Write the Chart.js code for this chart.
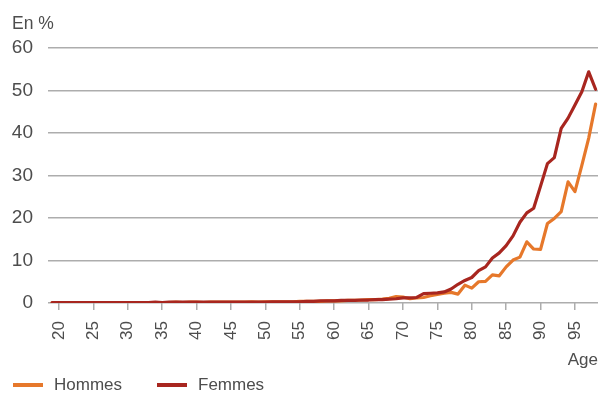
<!DOCTYPE html>
<html lang="fr">
<head>
<meta charset="utf-8">
<script src="https://cdn.jsdelivr.net/npm/chart.js@4"></script>
<style>
  html, body { margin: 0; padding: 0; background: #fff; }
  #wrap { width: 598px; height: 394px; }
</style>
</head>
<body>
<div id="wrap"><canvas id="ageChart"></canvas></div>
<script>
// Âges de 19 à 98 ans
const ages = [];
for (let a = 19; a <= 98; a++) ages.push(a);

const hommes = [
  0.1, 0.1, 0.1, 0.1, 0.1, 0.1, 0.1, 0.1, 0.1, 0.1, 0.1,
  0.1, 0.1, 0.1, 0.1, 0.1, 0.1, 0.1, 0.2, 0.1, 0.2,
  0.2, 0.1, 0.2, 0.2, 0.2, 0.2, 0.2, 0.2, 0.3, 0.2,
  0.3, 0.3, 0.3, 0.3, 0.3, 0.4, 0.4, 0.4, 0.4, 0.5,
  0.5, 0.5, 0.6, 0.6, 0.7, 0.8, 0.8, 0.9, 1.1, 1.5,
  1.4, 1.0, 1.2, 1.3, 1.7, 2.0, 2.3, 2.5, 2.1, 4.2,
  3.5, 5.0, 5.1, 6.6, 6.4, 8.5, 10.1, 10.8, 14.4, 12.7,
  12.6, 18.7, 19.9, 21.5, 28.5, 26.2, 32.4, 38.8, 46.8
];

const femmes = [
  0.1, 0.1, 0.1, 0.1, 0.1, 0.1, 0.1, 0.1, 0.1, 0.1, 0.1,
  0.1, 0.1, 0.1, 0.1, 0.2, 0.1, 0.2, 0.2, 0.2, 0.2,
  0.2, 0.2, 0.2, 0.2, 0.2, 0.2, 0.2, 0.2, 0.2, 0.2,
  0.2, 0.3, 0.3, 0.3, 0.3, 0.3, 0.4, 0.4, 0.5, 0.5,
  0.5, 0.6, 0.6, 0.6, 0.7, 0.7, 0.8, 0.8, 0.9, 1.0,
  1.2, 1.2, 1.3, 2.2, 2.3, 2.4, 2.6, 3.3, 4.4, 5.3,
  6.0, 7.6, 8.5, 10.6, 11.8, 13.5, 15.8, 19.0, 21.2, 22.3,
  27.5, 32.8, 34.2, 41.1, 43.5, 46.6, 49.7, 54.4, 50.3
];

const xTicks = [20, 25, 30, 35, 40, 45, 50, 55, 60, 65, 70, 75, 80, 85, 90, 95];

const FONT = "'Liberation Sans', Arial, sans-serif";
const TEXT = '#4d4d4d';
const GRID = '#adadad';

const points = vals => ages.map((a, i) => ({ x: a, y: vals[i] }));

// "En %" en haut à gauche et légende en bas, dessinés sur le canvas
const extras = {
  id: 'extras',
  afterDraw(chart) {
    const ctx = chart.ctx;
    ctx.save();
    ctx.font = '17.5px ' + FONT;
    ctx.fillStyle = TEXT;
    ctx.textBaseline = 'middle';
    ctx.textAlign = 'left';
    ctx.fillText('En %', 12, 24);

    ctx.font = '17px ' + FONT;
    let x = 13;
    const y = 385;
    chart.data.datasets.forEach(ds => {
      ctx.strokeStyle = ds.borderColor;
      ctx.lineWidth = 4;
      ctx.beginPath();
      ctx.moveTo(x, y);
      ctx.lineTo(x + 30, y);
      ctx.stroke();
      ctx.fillStyle = TEXT;
      ctx.fillText(ds.label, x + 41, y);
      x += 41 + ctx.measureText(ds.label).width + 35;
    });
    ctx.restore();
  }
};

new Chart(document.getElementById('ageChart'), {
  type: 'line',
  data: {
    datasets: [
      { label: 'Hommes', data: points(hommes), borderColor: '#e6782b', order: 1 },
      { label: 'Femmes', data: points(femmes), borderColor: '#a8261f', order: 0 }
    ]
  },
  options: {
    responsive: true,
    maintainAspectRatio: false,
    animation: false,
    layout: { padding: { left: 8, top: 48, right: 0, bottom: 0 } },
    elements: {
      line: { borderWidth: 3.2, tension: 0, borderJoinStyle: 'round', borderCapStyle: 'round' },
      point: { radius: 0 }
    },
    plugins: {
      legend: { display: false },
      tooltip: { enabled: false }
    },
    scales: {
      x: {
        type: 'linear',
        min: 18.4,
        max: 98.35,
        afterBuildTicks: axis => { axis.ticks = xTicks.map(v => ({ value: v })); },
        afterFit: axis => {
          axis.height = 91;
          axis.paddingLeft = 0;
          axis.paddingRight = 0;
        },
        border: { display: false },
        grid: { drawOnChartArea: false, drawTicks: true, tickLength: 7, color: GRID, lineWidth: 1.5 },
        ticks: {
          autoSkip: false, minRotation: 90, maxRotation: 90, padding: 11,
          color: TEXT, font: { family: FONT, size: 17 }
        },
        title: {
          display: true, text: 'Age', align: 'end', color: TEXT,
          font: { family: FONT, size: 17 }, padding: { top: 0, bottom: 23 }
        }
      },
      y: {
        min: 0,
        max: 60,
        afterFit: axis => {
          axis.width = 40;
          axis.paddingTop = 0;
          axis.paddingBottom = 0;
        },
        border: { display: false },
        grid: { drawTicks: false, color: GRID, lineWidth: 1.5 },
        ticks: { stepSize: 10, padding: 15, color: TEXT, font: { family: FONT, size: 19 } }
      }
    }
  },
  plugins: [extras]
});
</script>
</body>
</html>
